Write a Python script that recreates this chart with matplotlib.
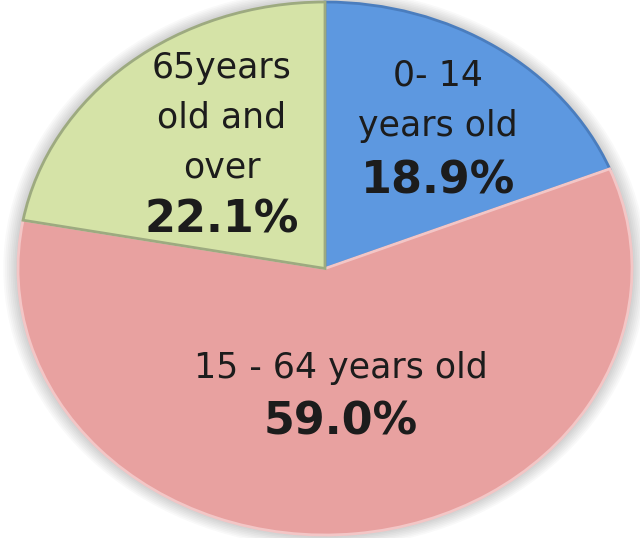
import matplotlib
matplotlib.use("Agg")
import matplotlib.pyplot as plt
from matplotlib.patches import Ellipse

categories = ["0- 14\nyears old", "15 - 64 years old", "65years\nold and\nover"]
values = [18.9, 59.0, 22.1]
pct_labels = ["18.9%", "59.0%", "22.1%"]
colors = ["#5D98E0", "#E8A1A0", "#D5E3A7"]
edge_colors = ["#4A7DBE", "#F3C6C6", "#9DAA80"]

W, H = 640, 538
fig = plt.figure(figsize=(W / 100, H / 100), dpi=100)
ax = fig.add_axes([0, 0, 1, 1])

# pie ellipse geometry in pixels
CX, CY, RX, RY = 325.0, 268.5, 307.0, 266.5

for k in range(8):
    s = 1.0 + 0.006 * (k + 1)
    ax.add_patch(Ellipse((0, 0), 2 * s, 2 * s, facecolor="#000000",
                         alpha=0.025, edgecolor="none", zorder=0))

wedges, _ = ax.pie(values, colors=colors, startangle=90, counterclock=False,
                   radius=1.0, wedgeprops=dict(linewidth=2.0))
ax.set_xlim(-CX / RX, (W - CX) / RX)
ax.set_ylim(-(H - CY) / RY, CY / RY)
ax.set_aspect("auto")
ax.axis("off")
for w, ec in zip(wedges, edge_colors):
    w.set_edgecolor(ec)
    w.set_zorder(2)

def to_ax(x, y):
    return (x / W, 1 - y / H)

font = ["DejaVu Sans"]
txt = "#1c1c1c"
layout = [(438, 101, 181), (341, 368, 422), (222, 118, 220)]
name_line = 50
for (cx, cy, py), name, pct in zip(layout, categories, pct_labels):
    lines = name.split("\n")
    n = len(lines)
    for i, ln in enumerate(lines):
        y = cy + (i - (n - 1) / 2) * name_line
        ax.text(*to_ax(cx, y), ln, transform=ax.transAxes, ha="center", va="center",
                fontsize=25, color=txt, family=font, zorder=5)
    ax.text(*to_ax(cx, py), pct, transform=ax.transAxes, ha="center", va="center",
            fontsize=32, fontweight="bold", color=txt, family=font, zorder=5)

fig.savefig("out.png", dpi=100)
